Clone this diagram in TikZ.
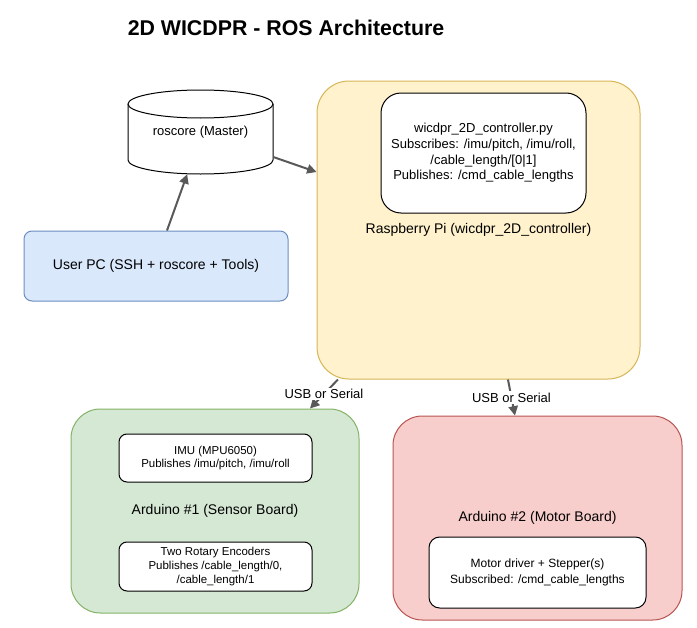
\documentclass[tikz,border=0pt]{standalone}
\usepackage{fontspec}
\setmainfont{Liberation Sans}
\usetikzlibrary{arrows.meta, positioning}
\definecolor{pcfill}{HTML}{DAE8FC}
\definecolor{pcline}{HTML}{6C8EBF}
\definecolor{pifill}{HTML}{FFF2CC}
\definecolor{piline}{HTML}{D6B656}
\definecolor{senfill}{HTML}{D5E8D4}
\definecolor{senline}{HTML}{82B366}
\definecolor{motfill}{HTML}{F8CECC}
\definecolor{motline}{HTML}{B85450}
\definecolor{wire}{HTML}{595959}
\tikzstyle{every node}=[font=\fontsize{10.5}{12.6}\selectfont, align=center, inner sep=0pt]
\tikzstyle{block}=[draw, rectangle, rounded corners=6pt, fill=white, line width=0.75pt]
\tikzstyle{board}=[draw, rectangle, rounded corners=22pt, line width=0.75pt]
\tikzstyle{small}=[font=\fontsize{8.6}{10.3}\selectfont]
\tikzstyle{mid}=[font=\fontsize{9.75}{11.7}\selectfont]
\tikzstyle{link}=[->, wire, line width=1.5pt]
\tikzstyle{usb}=[mid, fill=white, text=black, inner sep=1pt]

\begin{document}
\begin{tikzpicture}[x=0.75pt, y=-0.75pt, >={Triangle[length=7pt,width=7pt]}]
  \useasboundingbox (0,0) rectangle (697,628);
  \node[font=\fontsize{16}{19}\selectfont\bfseries] (title) at (286,28) {2D WICDPR - ROS Architecture};

  \node[block, fill=pcfill, draw=pcline, minimum width=198pt, minimum height=52.5pt] (pc) at (156,266) {User PC (SSH + roscore + Tools)};

  \draw[line width=0.75pt, fill=white] (128,104) -- (128,160) arc[start angle=180, end angle=0, x radius=72.5, y radius=14] -- (273,104);
  \draw[line width=0.75pt, fill=white] (200.5,104) ellipse [x radius=72.5, y radius=14];
  \node[mid, minimum width=108.75pt, minimum height=63pt] (roscore) at (200.5,132) {roscore (Master)};

  \node[board, fill=pifill, draw=piline, rounded corners=24pt, minimum width=242.25pt, minimum height=223.5pt] (rpi) at (478.5,230) {Raspberry Pi (wicdpr\_2D\_controller)};
  \node[block, mid, rounded corners=15pt, minimum width=153.75pt, minimum height=90pt] (ctrl) at (483.5,153) {wicdpr\_2D\_controller.py\\Subscribes: /imu/pitch, /imu/roll,\\/cable\_length/[0|1]\\Publishes: /cmd\_cable\_lengths};

  \node[board, fill=senfill, draw=senline, minimum width=216pt, minimum height=153pt] (ard1) at (215,511) {Arduino \#1 (Sensor Board)};
  \node[block, small, minimum width=144.75pt, minimum height=36pt] (imu) at (215.5,458) {IMU (MPU6050)\\Publishes /imu/pitch, /imu/roll};
  \node[block, small, minimum width=144.75pt, minimum height=36.75pt] (enc) at (215.5,566.5) {Two Rotary Encoders\\Publishes /cable\_length/0,\\/cable\_length/1};

  \node[board, fill=motfill, draw=motline, minimum width=216.75pt, minimum height=153pt] (ard2) at (537.5,518) {Arduino \#2 (Motor Board)};
  \node[block, rounded corners=8pt, font=\fontsize{9}{12}\selectfont, minimum width=162.75pt, minimum height=53.25pt] (motor) at (537.5,572.5) {Motor driver + Stepper(s)\\Subscribed: /cmd\_cable\_lengths};

  \draw[link] ([xshift=8.25pt]pc.north) -- ([xshift=-10pt]roscore.south);
  \draw[link] ([yshift=-18.75pt]roscore.east) -- ([yshift=43.5pt]rpi.west);
  \draw[link] ([xshift=-105.4pt]rpi.south) -- node[usb] {USB or Serial} ([xshift=71.25pt]ard1.north);
  \draw[link] ([xshift=22.1pt]rpi.south) -- node[usb] {USB or Serial} ([xshift=-16.9pt]ard2.north);
\end{tikzpicture}
\end{document}
